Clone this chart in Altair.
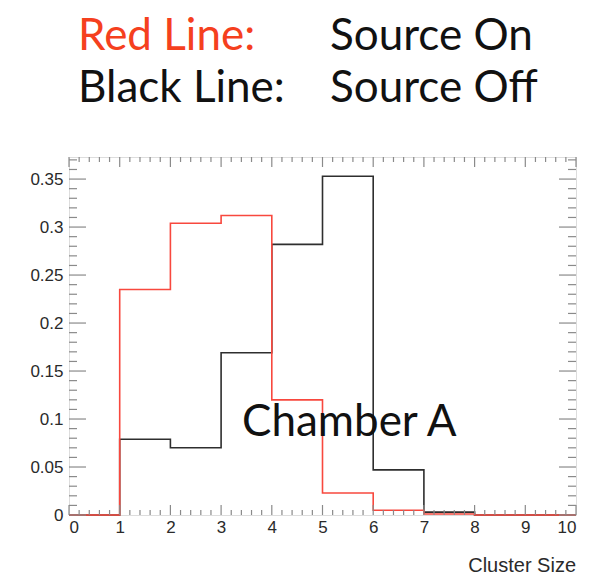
import altair as alt
import numpy as np
import pandas as pd

# Cluster-size histograms (fraction of events per bin, bins of width 1)
bin_edges = [0, 1, 2, 3, 4, 5, 6, 7, 8, 9, 10]
source_on = [0.0, 0.235, 0.304, 0.312, 0.120, 0.023, 0.005, 0.001, 0.0, 0.0]
source_off = [0.0, 0.079, 0.070, 0.169, 0.282, 0.353, 0.047, 0.003, 0.0, 0.0]

x_major = [0, 1, 2, 3, 4, 5, 6, 7, 8, 9, 10]
y_major = [0, 0.05, 0.10, 0.15, 0.20, 0.25, 0.30, 0.35]

W, H = 507, 358
X_DOMAIN = [0, 10]
Y_DOMAIN = [0, 0.373]

RED = "#f8483e"
BLACK = "#2e2e2e"
FRAME = "#8a8a8a"
LABEL = "#2a2a2a"


def step_frame(values, name):
    # step-after line: one point per left edge plus the closing right edge
    return pd.DataFrame({
        "x": bin_edges,
        "y": list(values) + [values[-1]],
        "series": name,
    })


hist = pd.concat([step_frame(source_off, "Source Off"),
                  step_frame(source_on, "Source On")])

xs = alt.Scale(domain=X_DOMAIN, nice=False, zero=False)
ys = alt.Scale(domain=Y_DOMAIN, nice=False, zero=False)

x_axis = alt.Axis(values=x_major, ticks=False, tickSize=0, domain=False, grid=False,
                  labelPadding=4, labelFontSize=17, labelColor=LABEL,
                  labelFont="Liberation Sans", title=None, format="d")
y_axis = alt.Axis(values=y_major, ticks=False, tickSize=0, domain=False, grid=False,
                  labelPadding=6, labelFontSize=17, labelColor=LABEL,
                  labelFont="Liberation Sans", title=None, format=".2~f")


def hist_line(name, color):
    return alt.Chart(hist[hist.series == name]).mark_line(
        interpolate="step-after", color=color, strokeWidth=1.6
    ).encode(
        x=alt.X("x:Q", scale=xs, axis=x_axis),
        y=alt.Y("y:Q", scale=ys, axis=y_axis),
    )


# inward ROOT-style ticks on all four sides
x_minor = [float(v) for v in np.round(np.arange(0, 10.0001, 0.2), 2)
           if not any(abs(v - m) < 1e-9 for m in x_major)]
y_minor = [float(v) for v in np.round(np.arange(0, 0.3701, 0.01), 2)
           if not any(abs(v - m) < 1e-9 for m in y_major)]

tick_style = dict(color=FRAME, strokeWidth=1.2)


def x_ticks(values, length):
    d = pd.DataFrame({"v": values})
    bottom = alt.Chart(d).mark_rule(**tick_style).encode(
        x=alt.X("v:Q", scale=xs), y=alt.value(H), y2=alt.value(H - length))
    top = alt.Chart(d).mark_rule(**tick_style).encode(
        x=alt.X("v:Q", scale=xs), y=alt.value(0), y2=alt.value(length))
    return [bottom, top]


def y_ticks(values, length):
    d = pd.DataFrame({"v": values})
    left = alt.Chart(d).mark_rule(**tick_style).encode(
        y=alt.Y("v:Q", scale=ys), x=alt.value(0), x2=alt.value(length))
    right = alt.Chart(d).mark_rule(**tick_style).encode(
        y=alt.Y("v:Q", scale=ys), x=alt.value(W), x2=alt.value(W - length))
    return [left, right]


ticks = (x_ticks(x_major, 10) + x_ticks(x_minor, 5)
         + y_ticks(y_major, 17) + y_ticks(y_minor, 8))


def label(text, x, y, size, color, font="Lato", align="left"):
    return alt.Chart(alt.Data(values=[{"t": text}])).mark_text(
        font=font, fontSize=size, color=color, align=align, baseline="alphabetic"
    ).encode(text="t:N", x=alt.value(x), y=alt.value(y))


texts = [
    label("Red Line:", 9, -107, 44, "#f5401e"),
    label("Source On", 261, -107, 44, "#111"),
    label("Black Line:", 9, -55, 44, "#111"),
    label("Source Off", 261, -55, 44, "#111"),
    label("Chamber A", 173, 279, 44, "#111"),
    label("Cluster Size", W, 415, 20, LABEL, font="Liberation Sans", align="right"),
]

chart = alt.layer(
    hist_line("Source Off", BLACK),
    hist_line("Source On", RED),
    *ticks,
    *texts,
).properties(
    width=W, height=H,
    autosize=alt.AutoSizeParams(type="none"),
    padding={"left": 69, "top": 157, "right": 13, "bottom": 61},
).configure_view(
    stroke=FRAME, strokeWidth=1.5
).configure(background="white")

chart.save("out.html", embed_options={"renderer": "svg", "actions": False})
